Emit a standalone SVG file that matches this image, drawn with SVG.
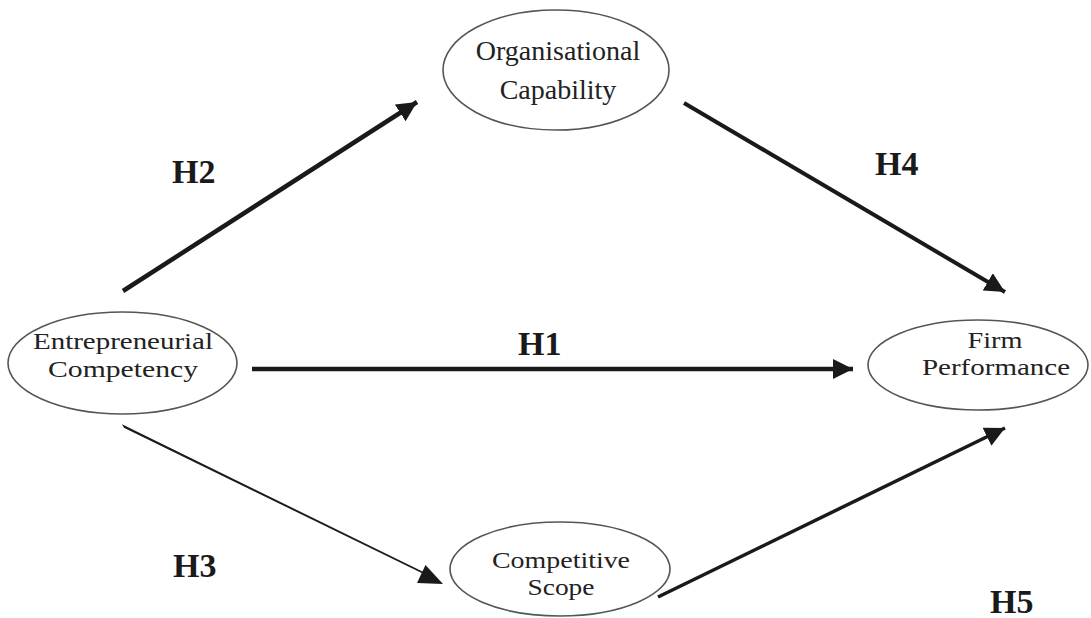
<svg xmlns="http://www.w3.org/2000/svg" width="1091" height="618" viewBox="0 0 1091 618">
  <style>
    .node ellipse { fill: #ffffff; stroke: #555555; stroke-width: 1.6; }
    .node text { font-family: "Liberation Serif", "Times New Roman", serif; font-size: 24px; fill: #222222; text-anchor: middle; }
    .node text.big { font-size: 28px; }
    .lbl { font-family: "Liberation Serif", "Times New Roman", serif; font-size: 34px; font-weight: bold; fill: #1a1a1a; }
    .conn { stroke: #1a1a1a; fill: none; stroke-linecap: butt; }
  </style>
  <defs>
    <marker id="ah" markerUnits="userSpaceOnUse" markerWidth="22" markerHeight="20" refX="20" refY="10" orient="auto">
      <path d="M0,0 L20,10 L0,20 Z" fill="#1a1a1a"/>
    </marker>
  </defs>
  <rect width="1091" height="618" fill="#ffffff"/>

  <g id="connectors">
    <line id="h2" class="conn" x1="123" y1="291" x2="417" y2="102" stroke-width="4.5" marker-end="url(#ah)"/>
    <line id="h4" class="conn" x1="684" y1="103" x2="1005" y2="292" stroke-width="4" marker-end="url(#ah)"/>
    <line id="h1" class="conn" x1="252" y1="369" x2="853" y2="369" stroke-width="4.5" marker-end="url(#ah)"/>
    <g id="h3">
      <polygon points="122,424.2 123.9,427.8 434,579 434.7,577.6" fill="#1a1a1a"/>
      <path d="M425.5,565 L443,584 L417,583 Z" fill="#1a1a1a"/>
    </g>
    <line id="h5" class="conn" x1="658" y1="597" x2="1005" y2="428" stroke-width="3.5" marker-end="url(#ah)"/>
  </g>

  <g id="labels">
    <text class="lbl" x="172" y="183">H2</text>
    <text class="lbl" x="875" y="175">H4</text>
    <text class="lbl" x="518" y="355">H1</text>
    <text class="lbl" x="173" y="577">H3</text>
    <text class="lbl" x="990" y="613">H5</text>
  </g>

  <g id="node-entrepreneurial" class="node">
    <ellipse cx="122.5" cy="363" rx="114.5" ry="51"/>
    <text x="123" y="349" textLength="180" lengthAdjust="spacingAndGlyphs">Entrepreneurial</text>
    <text x="123" y="377" textLength="150" lengthAdjust="spacingAndGlyphs">Competency</text>
  </g>
  <g id="node-organisational" class="node">
    <ellipse cx="556" cy="70" rx="113" ry="60"/>
    <text class="big" x="558" y="60">Organisational</text>
    <text class="big" x="558" y="99">Capability</text>
  </g>
  <g id="node-firm" class="node">
    <ellipse cx="978" cy="365" rx="110" ry="45"/>
    <text x="995" y="348" textLength="55" lengthAdjust="spacingAndGlyphs">Firm</text>
    <text x="996" y="375" textLength="148" lengthAdjust="spacingAndGlyphs">Performance</text>
  </g>
  <g id="node-competitive" class="node">
    <ellipse cx="560" cy="569" rx="110" ry="47"/>
    <text x="561" y="568" textLength="138" lengthAdjust="spacingAndGlyphs">Competitive</text>
    <text x="561" y="595" textLength="67" lengthAdjust="spacingAndGlyphs">Scope</text>
  </g>
</svg>
